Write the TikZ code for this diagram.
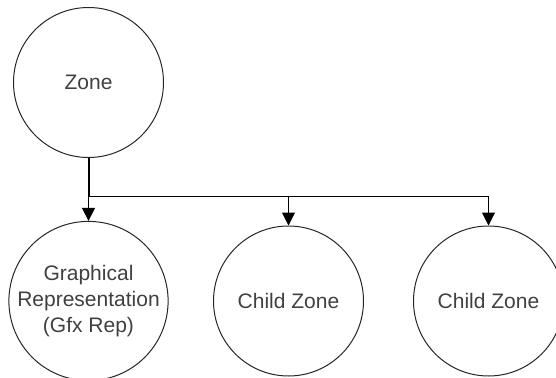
\documentclass[tikz,border=0pt]{standalone}
\usepackage{fontspec}
\setmainfont{Liberation Sans}
\usetikzlibrary{arrows.meta}
\begin{document}
\begin{tikzpicture}[x=1pt,y=1pt,
  bubble/.style={draw=black!85, line width=1pt, circle, minimum size=150pt, inner sep=0pt,
    align=center, text=black!75, font=\fontsize{21}{26}\selectfont},
  link/.style={draw=black, line width=1pt},
  arr/.style={link, -{Triangle[width=13pt,length=13pt]}}]
\useasboundingbox (0,0) rectangle (556,-377);
\node[bubble] (zone) at (88.5,-82.5) {Zone};
\node[bubble] (gfx) at (88.5,-301) {Graphical\\Representation\\(Gfx Rep)};
\node[bubble] (c1) at (288.5,-301) {Child Zone};
\node[bubble] (c2) at (488.5,-301) {Child Zone};
\coordinate (bus) at (88.5,-196);
\draw[link, line width=2pt] (zone.south) -- (bus);
\draw[arr] (bus) -- (gfx.north);
\draw[arr] (bus) -| (c1.north);
\draw[arr] (bus) -| (c2.north);
\end{tikzpicture}
\end{document}
